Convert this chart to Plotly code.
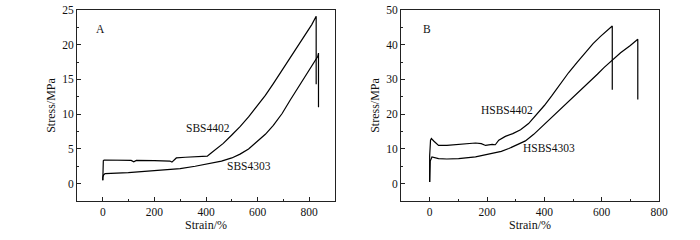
import plotly.graph_objects as go

# Panel A data
sbs4402_x = [0, 0, 2, 5, 20, 60, 110, 120, 130, 200, 260, 268, 275, 285, 320, 380, 405, 420, 440, 467, 500, 532, 565, 597, 630, 661, 695, 726, 760, 791, 810, 827, 827]
sbs4402_y = [0.5, 2.5, 3.3, 3.4, 3.4, 3.35, 3.35, 3.15, 3.35, 3.3, 3.25, 3.1, 3.4, 3.7, 3.8, 3.85, 3.95, 4.4, 5.0, 5.8, 7.0, 8.2, 9.6, 11.05, 12.7, 14.4, 16.3, 18.1, 20.0, 21.7, 22.9, 24.1, 14.3]
sbs4303_x = [0, 0, 3, 9, 99, 229, 300, 358, 420, 460, 500, 532, 565, 597, 630, 661, 695, 726, 760, 791, 815, 833, 836, 836]
sbs4303_y = [0.5, 0.9, 1.25, 1.44, 1.59, 1.92, 2.15, 2.5, 2.9, 3.25, 3.7, 4.25, 5.0, 6.0, 7.1, 8.4, 10.1, 12.0, 14.0, 15.9, 17.3, 18.3, 18.8, 11.0]

# Panel B data
hsbs4402_x = [0, 0, 3, 6, 15, 31, 60, 101, 140, 160, 180, 195, 218, 229, 241, 264, 290, 317, 345, 375, 400, 425, 455, 485, 515, 545, 570, 596, 620, 637, 637]
hsbs4402_y = [0.5, 8, 12.5, 13.0, 12.2, 11.0, 11.0, 11.2, 11.4, 11.7, 11.5, 11.0, 11.3, 11.2, 12.5, 13.6, 14.4, 15.5, 17.3, 20.0, 22.5, 25.2, 28.6, 32.0, 35.0, 37.9, 40.3, 42.4, 44.2, 45.4, 27.0]
hsbs4303_x = [0, 0, 2, 8, 20, 31, 60, 101, 160, 218, 250, 276, 305, 334, 363, 393, 420, 451, 480, 509, 535, 560, 585, 608, 640, 666, 700, 724, 726, 726]
hsbs4303_y = [0.5, 4, 6.5, 7.7, 7.5, 7.2, 7.1, 7.2, 7.7, 8.6, 9.3, 10.1, 11.1, 12.3, 14.2, 16.5, 18.7, 21.0, 23.3, 25.5, 27.6, 29.5, 31.5, 33.4, 35.8, 37.7, 39.8, 41.5, 41.6, 24.2]

x_ticks_a = [0, 200, 400, 600, 800]
y_ticks_a = [0, 5, 10, 15, 20, 25]
x_ticks_b = [0, 200, 400, 600, 800]
y_ticks_b = [0, 10, 20, 30, 40, 50]

FONT = "Liberation Serif, Times New Roman, serif"
line = dict(color="black", width=1.2)

W, H = 700, 240
ML, MR, MT, MB = 40, 20, 4, 30
PW, PH = W - ML - MR, H - MT - MB


def xdom(a, b):
    return [(a - ML) / PW, (b - ML) / PW]


def ydom(top, bottom):
    return [(H - MB - bottom) / PH, (H - MB - top) / PH]


fig = go.Figure()
fig.add_trace(go.Scatter(x=sbs4402_x, y=sbs4402_y, mode="lines", line=line, xaxis="x", yaxis="y"))
fig.add_trace(go.Scatter(x=sbs4303_x, y=sbs4303_y, mode="lines", line=line, xaxis="x", yaxis="y"))
fig.add_trace(go.Scatter(x=hsbs4402_x, y=hsbs4402_y, mode="lines", line=line, xaxis="x2", yaxis="y2"))
fig.add_trace(go.Scatter(x=hsbs4303_x, y=hsbs4303_y, mode="lines", line=line, xaxis="x2", yaxis="y2"))

axis_common = dict(
    showgrid=False, zeroline=False, showline=True, linecolor="#222", linewidth=1,
    mirror=True, ticks="inside", ticklen=4, tickcolor="#222", tickwidth=1,
    tickfont=dict(family=FONT, size=11.5, color="#111"),
    title_font=dict(family=FONT, size=12, color="#111"),
    automargin=False,
)

fig.update_layout(
    width=W, height=H,
    margin=dict(l=ML, r=MR, t=MT, b=MB),
    paper_bgcolor="white", plot_bgcolor="white",
    showlegend=False,
    xaxis=dict(domain=xdom(77, 335), range=[-100, 900], tickvals=x_ticks_a,
               minor=dict(ticks="inside", ticklen=2, dtick=100, tickcolor="#222"),
               title=dict(text="Strain/%", standoff=3), anchor="y", **axis_common),
    yaxis=dict(domain=ydom(10, 201), range=[-2.5, 25], tickvals=y_ticks_a,
               minor=dict(ticks="inside", ticklen=2, dtick=2.5, tickcolor="#222"),
               title=dict(text="Stress/MPa", standoff=4), anchor="x", **axis_common),
    xaxis2=dict(domain=xdom(401, 659), range=[-100, 800], tickvals=x_ticks_b,
                minor=dict(ticks="inside", ticklen=2, dtick=100, tickcolor="#222"),
                title=dict(text="Strain/%", standoff=3), anchor="y2", **axis_common),
    yaxis2=dict(domain=ydom(10, 201), range=[-5, 50], tickvals=y_ticks_b,
                minor=dict(ticks="inside", ticklen=2, dtick=5, tickcolor="#222"),
                title=dict(text="Stress/MPa", standoff=4), anchor="x2", **axis_common),
)

ann_font = dict(family=FONT, size=11.5, color="#111")
annotations = [
    dict(x=-10, y=22.3, xref="x", yref="y", text="A"),
    dict(x=408, y=8.0, xref="x", yref="y", text="SBS4402"),
    dict(x=567, y=2.5, xref="x", yref="y", text="SBS4303"),
    dict(x=-11, y=44.5, xref="x2", yref="y2", text="B"),
    dict(x=270, y=21.1, xref="x2", yref="y2", text="HSBS4402"),
    dict(x=418, y=10.3, xref="x2", yref="y2", text="HSBS4303"),
]
for a in annotations:
    fig.add_annotation(showarrow=False, font=ann_font, **a)

fig.write_html(
    "out.html",
    config={"displayModeBar": False},
    post_script="document.body.style.margin='0';document.body.style.overflow='hidden';",
)
